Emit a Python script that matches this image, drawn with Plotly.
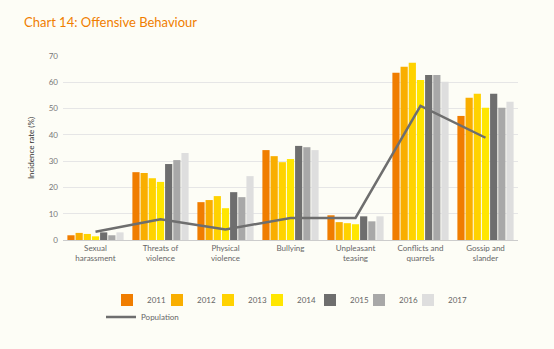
import plotly.graph_objects as go

categories = ["Sexual<br>harassment", "Threats of<br>violence", "Physical<br>violence", "Bullying",
              "Unpleasant<br>teasing", "Conflicts and<br>quarrels", "Gossip and<br>slander"]
years = ["2011", "2012", "2013", "2014", "2015", "2016", "2017"]
v2011 = [1.8, 25.8, 14.4, 34.2, 9.4, 63.6, 47.2]
v2012 = [2.7, 25.5, 15.2, 31.9, 6.8, 65.9, 54.1]
v2013 = [2.3, 23.5, 16.7, 29.6, 6.4, 67.4, 55.6]
v2014 = [1.4, 22.1, 12.1, 30.8, 6.0, 60.9, 50.3]
v2015 = [2.9, 28.9, 18.2, 35.8, 9.0, 62.8, 55.6]
v2016 = [1.8, 30.4, 16.3, 35.3, 7.1, 62.8, 50.3]
v2017 = [2.9, 33.1, 24.3, 34.2, 9.0, 60.2, 52.6]
population = [3.1, 7.9, 4.0, 8.4, 8.4, 51.0, 38.9]

series = [v2011, v2012, v2013, v2014, v2015, v2016, v2017]
colors = ["#F07D00", "#F9AE00", "#FFD200", "#FFE600", "#6E6E6E", "#A8A8A8", "#DEDEDE"]

W, H = 554, 349
ML, MR, MT, MB = 63, 36, 56, 109
PW, PH = W - ML - MR, H - MT - MB

def px_x(px):
    return (px - ML) / PW

def px_y(py):
    return -(py - (H - MB)) / PH

FONT = "Lato"
fig = go.Figure()
legend_swatch_x = [127, 177, 228, 277, 330, 379, 428]
layout_legends = {}
for i, (y, vals, c) in enumerate(zip(years, series, colors)):
    lname = "legend" if i == 0 else f"legend{i+1}"
    fig.add_trace(go.Bar(x=categories, y=vals, name=y, marker_color=c,
                         marker_line_width=0, legend=lname))
    layout_legends[lname] = dict(x=px_x(legend_swatch_x[i] - 20), y=px_y(300),
                                 xanchor="left", yanchor="middle",
                                 font=dict(size=8, color="#666666"),
                                 bgcolor="rgba(0,0,0,0)", itemwidth=30)
fig.add_trace(go.Scatter(x=categories, y=population, name="Population", mode="lines",
                         line=dict(color="#6E6E6E", width=2.5), legend="legend8"))
layout_legends["legend8"] = dict(x=px_x(101), y=px_y(317), xanchor="left", yanchor="middle",
                                 font=dict(size=8, color="#666666"),
                                 bgcolor="rgba(0,0,0,0)", itemwidth=30)

bg = "#FDFDF6"
fig.update_layout(
    width=W, height=H, showlegend=True,
    paper_bgcolor=bg, plot_bgcolor=bg,
    margin=dict(l=ML, r=MR, t=MT, b=MB),
    barmode="group", bargap=0.12, bargroupgap=0.12,
    font=dict(family=FONT, size=8, color="#666666"),
    title=dict(text="Chart 14: Offensive Behaviour", x=24/W, xanchor="left",
               y=1-22/H, yanchor="middle",
               font=dict(family=FONT, size=13, color="#F07D00")),
    xaxis=dict(showline=True, linecolor="#CCCCCC", linewidth=1, ticks="",
               tickfont=dict(size=8, color="#666666"), showgrid=False),
    yaxis=dict(range=[0, 70], dtick=10, gridcolor="#E6E6E6", gridwidth=1, zeroline=False,
               tickfont=dict(size=8, color="#777777"), ticks="", ticklabelstandoff=4,
               title=dict(text="Incidence rate (%)", font=dict(size=8, color="#333333"),
                          standoff=12)),
    **layout_legends,
)
fig.write_html("out.html")
